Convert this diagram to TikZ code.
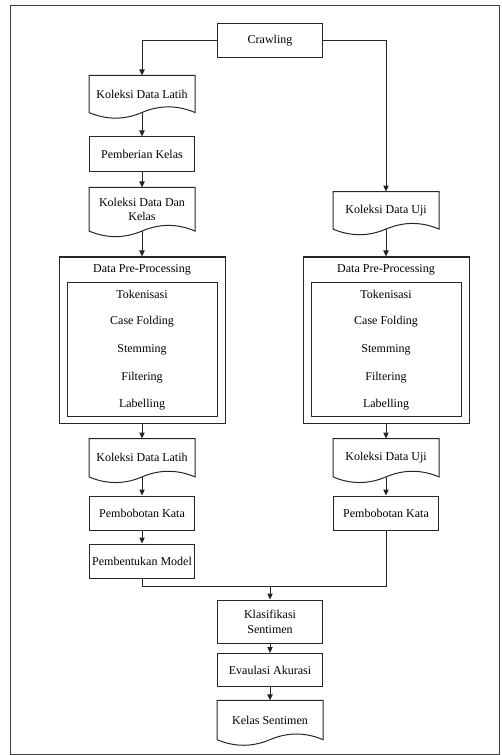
\documentclass[tikz,border=0pt]{standalone}
\usepackage{fontspec}
\setmainfont{Liberation Serif}
\usetikzlibrary{arrows.meta,calc}
\newcommand\docoutline[1]{%
  \draw[ln] (#1.south west) -- (#1.north west) -- (#1.north east) -- (#1.south east)
    .. controls ($(#1.south east)+(-17.5,-7.5)$) and ($(#1.south)+(17.5,-7.5)$) .. (#1.south)
    .. controls ($(#1.south)+(-17.5,7.5)$) and ($(#1.south west)+(17.5,7.5)$) .. (#1.south west) -- cycle;}
\begin{document}
\begin{tikzpicture}[x=0.75pt,y=-0.75pt,line width=0.75pt,
  txt/.style={font=\fontsize{9}{11}\selectfont, align=center, inner sep=0pt},
  box/.style={txt, draw=black!85, rectangle, minimum width=78.75pt},
  docnode/.style={txt, rectangle, minimum width=78.75pt},
  ln/.style={draw=black!85},
  arr/.style={draw=black!85, -{Triangle[length=4.5pt,width=4pt]}}]
\useasboundingbox (0,0) rectangle (501,755);
\draw[draw=black!75] (10,6) rectangle (499.8,754);

% top
\node[box, minimum height=25.5pt] (crawl) at (270,41) {Crawling};

% left column
\node[docnode, minimum height=27pt] (kdl1) at (142,94) {Koleksi Data Latih};
\docoutline{kdl1}
\node[box, minimum height=26.25pt] (pk) at (142,154.5) {Pemberian Kelas};
\node[docnode, minimum height=31.9pt] (kddk) at (142,209.25) {Koleksi Data Dan\\Kelas};
\docoutline{kddk}
\node[draw=black!85, rectangle, minimum width=124.5pt, minimum height=124.5pt, inner sep=0pt] (dpp1) at (142,340) {};
\node[draw=black!85, rectangle, minimum width=112.5pt, minimum height=100.5pt, inner sep=0pt] (in1) at (142,349) {};
\node[txt] (t1) at (142,270) {Data Pre-Processing};
\node[txt] (a1) at (142,294) {Tokenisasi};
\node[txt] (b1) at (142,321.75) {Case Folding};
\node[txt] (c1) at (142,349.5) {Stemming};
\node[txt] (d1) at (142,377.25) {Filtering};
\node[txt] (e1) at (142,405) {Labelling};
\node[docnode, minimum height=28.05pt] (kdl2) at (142,457.7) {Koleksi Data Latih};
\docoutline{kdl2}
\node[box, minimum height=25.5pt] (pbk1) at (142,513) {Pembobotan Kata};
\node[box, minimum height=25.5pt] (pm) at (142,561) {Pembentukan Model};

% right column
\node[docnode, minimum height=27.4pt] (kdu1) at (386,210.3) {Koleksi Data Uji};
\docoutline{kdu1}
\node[draw=black!85, rectangle, minimum width=124.5pt, minimum height=124.5pt, inner sep=0pt] (dpp2) at (386,340) {};
\node[draw=black!85, rectangle, minimum width=112.5pt, minimum height=100.5pt, inner sep=0pt] (in2) at (386,349) {};
\node[txt] (t2) at (386,270) {Data Pre-Processing};
\node[txt] (a2) at (386,294) {Tokenisasi};
\node[txt] (b2) at (386,321.75) {Case Folding};
\node[txt] (c2) at (386,349.5) {Stemming};
\node[txt] (d2) at (386,377.25) {Filtering};
\node[txt] (e2) at (386,405) {Labelling};
\node[docnode, minimum height=28.05pt] (kdu2) at (386,457.7) {Koleksi Data Uji};
\docoutline{kdu2}
\node[box, minimum height=25.5pt] (pbk2) at (386,513) {Pembobotan Kata};

% bottom
\node[box, minimum height=32.25pt] (klas) at (270,621.5) {Klasifikasi\\Sentimen};
\node[box, minimum height=24.75pt] (eval) at (270,670) {Evaulasi Akurasi};
\node[docnode, minimum height=28.7pt] (kelas) at (270,720) {Kelas Sentimen};
\docoutline{kelas}

% connectors
\draw[arr] (crawl.west) -| (kdl1.north);
\draw[arr] (crawl.east) -| (kdu1.north);
\draw[arr] (kdl1.south) -- (pk.north);
\draw[arr] (pk.south) -- (kddk.north);
\draw[arr] (kddk.south) -- (dpp1.north);
\draw[arr] (dpp1.south) -- (kdl2.north);
\draw[arr] (kdl2.south) -- (pbk1.north);
\draw[arr] (pbk1.south) -- (pm.north);
\draw[arr] (kdu1.south) -- (dpp2.north);
\draw[arr] (dpp2.south) -- (kdu2.north);
\draw[arr] (kdu2.south) -- (pbk2.north);
\coordinate (jl) at (142,586);
\coordinate (jm) at (270,586);
\coordinate (jr) at (386,586);
\draw[ln] (pm.south) -- (jl) -- (jr) -- (pbk2.south);
\draw[arr] (jm) -- (klas.north);
\draw[arr] (klas.south) -- (eval.north);
\draw[arr] (eval.south) -- (kelas.north);
\end{tikzpicture}
\end{document}
